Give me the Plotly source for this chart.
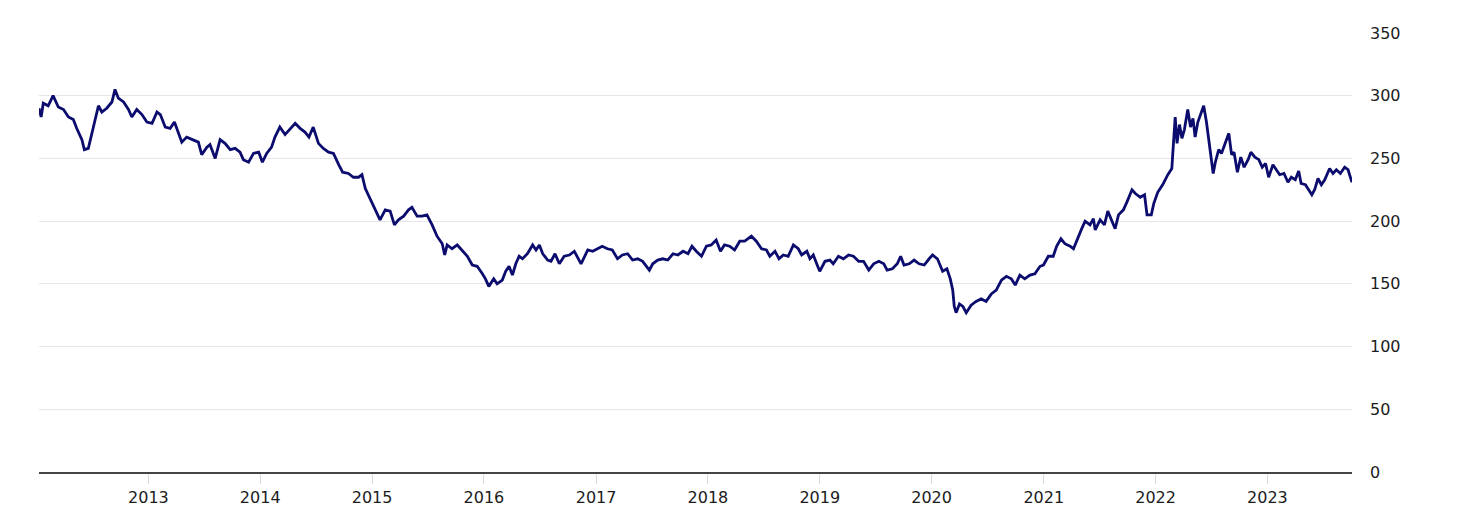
import pandas as pd
import plotly.graph_objects as go

# ---------- datos ----------
fechas_2012_2013 = [
    "2012-01-10", "2012-01-17", "2012-01-24", "2012-02-09", "2012-02-25", "2012-03-13",
    "2012-03-30", "2012-04-15", "2012-05-01", "2012-05-12", "2012-05-29", "2012-06-06",
    "2012-06-19", "2012-06-30", "2012-07-11", "2012-07-22", "2012-08-02", "2012-08-18",
    "2012-09-04", "2012-09-14", "2012-09-25", "2012-10-12", "2012-10-28", "2012-11-08",
    "2012-11-24", "2012-12-11", "2012-12-27", "2013-01-13", "2013-01-29", "2013-02-09",
    "2013-02-25", "2013-03-13", "2013-03-27", "2013-04-09", "2013-04-20", "2013-05-06",
    "2013-05-23", "2013-06-13", "2013-06-24", "2013-07-11", "2013-07-21", "2013-08-07",
    "2013-08-23", "2013-09-08", "2013-09-25", "2013-10-11", "2013-10-27", "2013-11-07",
    "2013-11-24", "2013-12-10", "2013-12-27",
]
valores_2012_2013 = [
    290, 283, 294, 292, 300, 291,
    289, 283, 281, 274, 265, 257,
    258, 270, 281, 292, 287, 290,
    295, 305, 298, 295, 289, 283,
    289, 285, 279, 278, 287, 285,
    275, 274, 279, 270, 263, 267,
    265, 263, 253, 259, 261, 250,
    265, 262, 257, 258, 255, 249,
    247, 254, 255,
]

fechas_2014_2015 = [
    "2014-01-08", "2014-01-22", "2014-02-07", "2014-02-18", "2014-03-06", "2014-03-23",
    "2014-04-08", "2014-04-25", "2014-05-11", "2014-05-27", "2014-06-09", "2014-06-23",
    "2014-07-10", "2014-07-26", "2014-08-12", "2014-08-28", "2014-09-14", "2014-09-27",
    "2014-10-16", "2014-11-01", "2014-11-18", "2014-11-29", "2014-12-10", "2014-12-26",
    "2015-01-11", "2015-01-27", "2015-02-13", "2015-03-01", "2015-03-15", "2015-03-28",
    "2015-04-14", "2015-04-30", "2015-05-11", "2015-05-28", "2015-06-13", "2015-06-29",
    "2015-07-16", "2015-08-01", "2015-08-18", "2015-08-26", "2015-09-03", "2015-09-19",
    "2015-10-06", "2015-10-22", "2015-11-08", "2015-11-24", "2015-12-10", "2015-12-27",
]
valores_2014_2015 = [
    247, 254, 259, 267, 275, 269,
    273, 278, 274, 271, 267, 275,
    262, 258, 255, 254, 245, 239,
    238, 235, 235, 237, 226, 218,
    209, 201, 209, 208, 197, 201,
    204, 209, 211, 204, 204, 205,
    197, 188, 182, 173, 181, 178,
    181, 177, 172, 165, 164, 158,
]

fechas_2016_2017 = [
    "2016-01-06", "2016-01-17", "2016-02-02", "2016-02-13", "2016-03-01", "2016-03-12",
    "2016-03-23", "2016-04-03", "2016-04-14", "2016-04-25", "2016-05-06", "2016-05-22",
    "2016-06-08", "2016-06-19", "2016-06-30", "2016-07-11", "2016-07-27", "2016-08-07",
    "2016-08-20", "2016-09-03", "2016-09-19", "2016-10-06", "2016-10-22", "2016-11-13",
    "2016-12-05", "2016-12-21", "2017-01-05", "2017-01-21", "2017-02-07", "2017-02-23",
    "2017-03-12", "2017-03-28", "2017-04-14", "2017-04-30", "2017-05-17", "2017-06-02",
    "2017-06-24", "2017-07-05", "2017-07-21", "2017-08-07", "2017-08-23", "2017-09-09",
    "2017-09-25", "2017-10-12", "2017-10-28", "2017-11-10", "2017-11-24", "2017-12-11",
    "2017-12-27",
]
valores_2016_2017 = [
    154, 148, 154, 150, 153, 160,
    164, 157, 166, 172, 170, 174,
    181, 177, 181, 174, 169, 168,
    174, 166, 172, 173, 176, 166,
    177, 176, 178, 180, 178, 177,
    170, 173, 174, 169, 170, 168,
    161, 166, 169, 170, 169, 174,
    173, 176, 174, 180, 176, 172,
    180,
]

fechas_2018_2019 = [
    "2018-01-12", "2018-01-28", "2018-02-11", "2018-02-24", "2018-03-13", "2018-03-29",
    "2018-04-15", "2018-05-01", "2018-05-23", "2018-06-08", "2018-06-25", "2018-07-11",
    "2018-07-22", "2018-08-08", "2018-08-21", "2018-09-04", "2018-09-20", "2018-10-07",
    "2018-10-23", "2018-11-03", "2018-11-20", "2018-11-30", "2018-12-11", "2018-12-22",
    "2019-01-01", "2019-01-18", "2019-02-03", "2019-02-14", "2019-03-03", "2019-03-19",
    "2019-04-05", "2019-04-21", "2019-05-08", "2019-05-24", "2019-06-10", "2019-06-26",
    "2019-07-13", "2019-07-29", "2019-08-09", "2019-08-26", "2019-09-11", "2019-09-22",
    "2019-10-03", "2019-10-20", "2019-11-05", "2019-11-21", "2019-12-08", "2019-12-24",
]
valores_2018_2019 = [
    181, 185, 176, 181, 180, 177,
    184, 184, 188, 184, 178, 177,
    172, 176, 170, 173, 172, 181,
    178, 173, 176, 170, 173, 166,
    160, 168, 169, 166, 172, 170,
    173, 172, 168, 168, 161, 166,
    168, 166, 161, 162, 166, 172,
    165, 166, 169, 166, 165, 170,
]

fechas_2020_2021 = [
    "2020-01-04", "2020-01-20", "2020-02-06", "2020-02-20", "2020-03-02", "2020-03-10",
    "2020-03-15", "2020-03-21", "2020-04-01", "2020-04-12", "2020-04-23", "2020-05-09",
    "2020-05-25", "2020-06-11", "2020-06-27", "2020-07-14", "2020-07-30", "2020-08-16",
    "2020-09-01", "2020-09-17", "2020-09-30", "2020-10-15", "2020-10-31", "2020-11-17",
    "2020-12-03", "2020-12-20", "2020-12-31", "2021-01-16", "2021-02-01", "2021-02-12",
    "2021-02-26", "2021-03-11", "2021-03-28", "2021-04-08", "2021-04-19", "2021-05-05",
    "2021-05-16", "2021-06-01", "2021-06-12", "2021-06-18", "2021-07-04", "2021-07-18",
    "2021-07-29", "2021-08-11", "2021-08-22", "2021-09-02", "2021-09-18", "2021-09-29",
    "2021-10-16", "2021-10-27", "2021-11-12", "2021-11-26", "2021-12-04", "2021-12-18",
    "2021-12-26",
]
valores_2020_2021 = [
    173, 170, 160, 162, 154, 145,
    132, 127, 134, 132, 127, 133,
    136, 138, 136, 142, 145, 153,
    156, 154, 149, 157, 154, 157,
    158, 164, 165, 172, 172, 180,
    186, 182, 180, 178, 185, 194,
    200, 197, 202, 193, 201, 197,
    208, 201, 194, 205, 209, 215,
    225, 222, 219, 221, 205, 205,
    214,
]

fechas_2022_2023 = [
    "2022-01-08", "2022-01-24", "2022-02-10", "2022-02-23", "2022-02-28", "2022-03-06",
    "2022-03-12", "2022-03-20", "2022-03-28", "2022-04-05", "2022-04-16", "2022-04-25",
    "2022-05-03", "2022-05-10", "2022-05-19", "2022-05-28", "2022-06-07", "2022-06-16",
    "2022-06-24", "2022-07-02", "2022-07-08", "2022-07-15", "2022-07-26", "2022-08-04",
    "2022-08-15", "2022-08-28", "2022-09-06", "2022-09-14", "2022-09-25", "2022-10-06",
    "2022-10-17", "2022-10-30", "2022-11-08", "2022-11-21", "2022-12-04", "2022-12-15",
    "2022-12-26", "2023-01-05", "2023-01-19", "2023-01-30", "2023-02-10", "2023-02-24",
    "2023-03-09", "2023-03-20", "2023-04-02", "2023-04-13", "2023-04-21", "2023-05-05",
    "2023-05-13", "2023-05-26", "2023-06-04", "2023-06-15", "2023-06-26", "2023-07-07",
    "2023-07-23", "2023-08-03", "2023-08-14", "2023-08-27", "2023-09-10", "2023-09-21",
    "2023-10-04",
]
valores_2022_2023 = [
    223, 229, 237, 242, 261, 283,
    262, 277, 266, 273, 289, 275,
    282, 267, 279, 285, 292, 279,
    263, 250, 238, 247, 257, 254,
    262, 270, 253, 255, 239, 251,
    243, 249, 255, 251, 249, 243,
    246, 235, 245, 241, 237, 238,
    231, 235, 233, 240, 230, 229,
    226, 221, 225, 234, 229, 233,
    242, 238, 241, 238, 243, 241,
    231,
]

fechas = (fechas_2012_2013 + fechas_2014_2015 + fechas_2016_2017
          + fechas_2018_2019 + fechas_2020_2021 + fechas_2022_2023)
valores = (valores_2012_2013 + valores_2014_2015 + valores_2016_2017
           + valores_2018_2019 + valores_2020_2021 + valores_2022_2023)

y_ticks = [0, 50, 100, 150, 200, 250, 300, 350]

df = pd.DataFrame({"fecha": pd.to_datetime(fechas), "valor": valores})

# ---------- gráfica ----------
fig = go.Figure()
fig.add_trace(go.Scatter(
    x=df["fecha"], y=df["valor"], mode="lines",
    line=dict(color="#0b0c6e", width=2.8),
    hoverinfo="x+y", showlegend=False,
))

# la página deja 8px de margen alrededor del gráfico
fig.update_layout(
    width=1461, height=515,
    paper_bgcolor="white", plot_bgcolor="white",
    margin=dict(l=31, r=117, t=25, b=51),
    font=dict(family="DejaVu Sans, sans-serif", size=16, color="#1c1c1c"),
)
fig.update_xaxes(
    range=[df["fecha"].iloc[0], df["fecha"].iloc[-1]],
    tick0="2013-01-01", dtick="M12", tickformat="%Y",
    showgrid=False, showline=True, linecolor="#444444", linewidth=1.5,
    ticks="outside", ticklen=10, tickcolor="#d5d9e0", tickwidth=1,
    ticklabelstandoff=0,
)
fig.update_yaxes(
    side="right", range=[0, 350], tickvals=y_ticks,
    showgrid=True, gridcolor="#e6e6e9", gridwidth=1,
    zeroline=False, showline=False, ticks="", ticklabelstandoff=17,
)

fig.write_html("out.html")
